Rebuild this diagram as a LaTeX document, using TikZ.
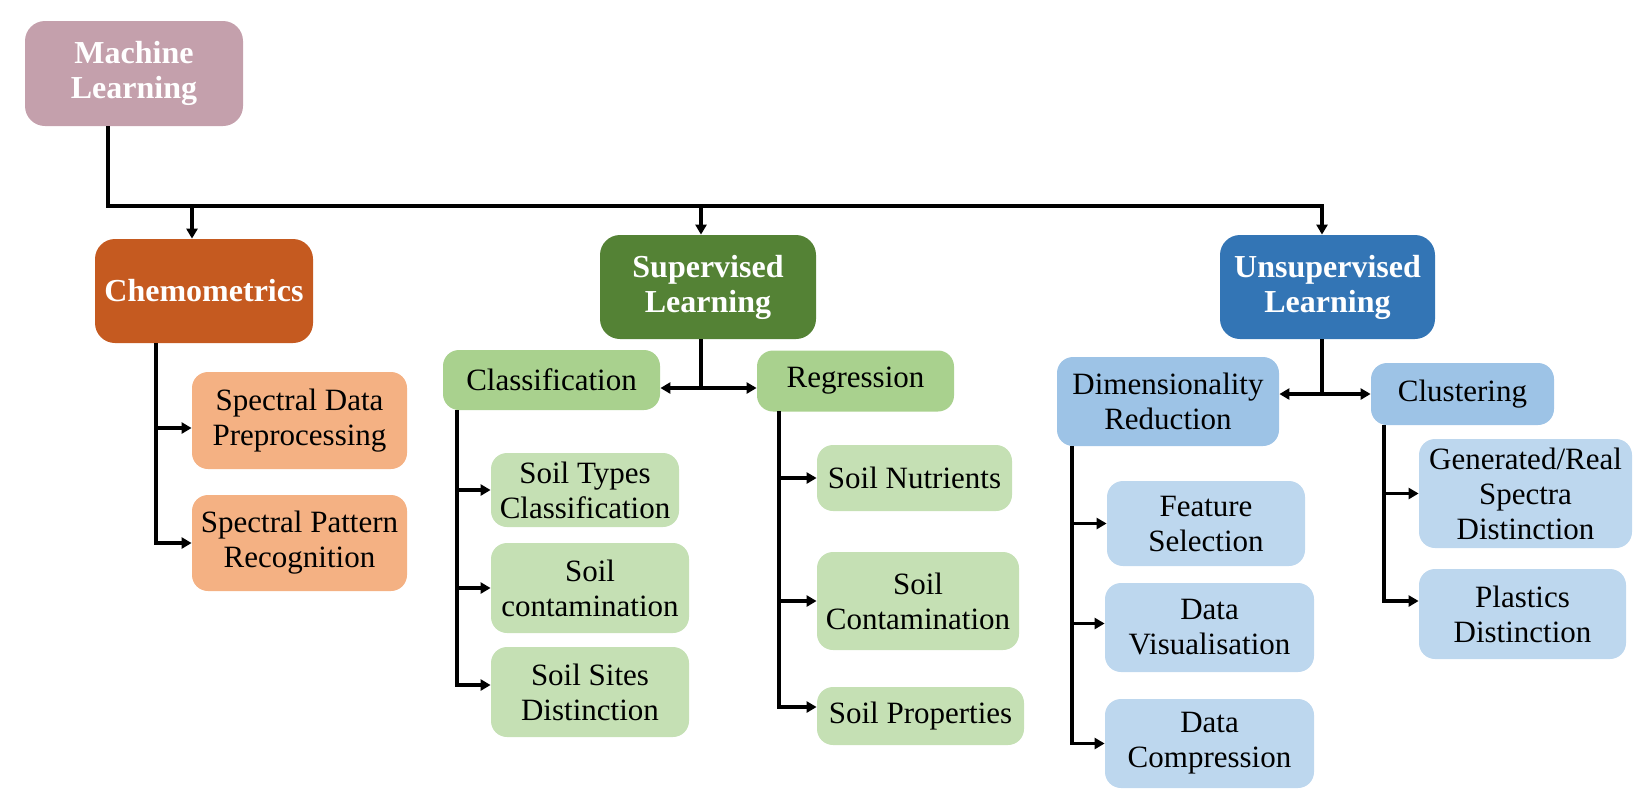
\documentclass[tikz,border=0pt]{standalone}
\usepackage{fontspec}
\setmainfont{Liberation Serif}
\usetikzlibrary{arrows.meta}
\definecolor{cML}{HTML}{C4A0AC}
\definecolor{cChem}{HTML}{C55A20}
\definecolor{cChemL}{HTML}{F4B183}
\definecolor{cSup}{HTML}{548235}
\definecolor{cSupM}{HTML}{A9D18E}
\definecolor{cSupL}{HTML}{C5E0B4}
\definecolor{cUns}{HTML}{3375B5}
\definecolor{cUnsM}{HTML}{9DC3E6}
\definecolor{cUnsL}{HTML}{BDD7EE}
\begin{document}
\begin{tikzpicture}[x=0.5pt,y=-0.5pt,
 box/.style={rounded corners=8pt, align=center, inner sep=1pt, text=black, font=\fontsize{15.5}{17.5}\selectfont},
 head/.style={box, rounded corners=10pt, text=white, font=\bfseries\fontsize{16}{17.5}\selectfont},
 sz/.style 2 args={minimum width={#1*0.5pt}, minimum height={#2*0.5pt}},
 conn/.style={line width=1.6pt, black},
 arr/.style={conn, -{Triangle[length=5pt,width=5.5pt]}},
 arrs/.style={conn, {Triangle[length=5pt,width=5.5pt]}-{Triangle[length=5pt,width=5.5pt]}}]
\useasboundingbox (0,0) rectangle (1650,800);

% top level
\node[head, fill=cML, sz={218}{105}] (ml) at (134,73.5) {Machine\\Learning};
\node[head, fill=cChem, sz={218}{104}] (chem) at (204,291) {Chemometrics};
\node[head, fill=cSup, sz={216}{104}] (sup) at (708,287) {Supervised\\Learning};
\node[head, fill=cUns, sz={215}{104}] (uns) at (1327.5,287) {Unsupervised\\Learning};

% chemometrics children
\node[box, fill=cChemL, sz={215}{97}] (sdp) at (299.5,420.5) {Spectral Data\\Preprocessing};
\node[box, fill=cChemL, sz={215}{96}] (spr) at (299.5,543) {Spectral Pattern\\Recognition};

% supervised
\node[box, fill=cSupM, sz={217}{60}] (cls) at (551.5,380) {Classification};
\node[box, fill=cSupM, sz={197}{61}] (reg) at (855.5,381) {Regression};
\node[box, fill=cSupL, sz={188}{74}] (typ) at (585,490) {Soil Types\\Classification};
\node[box, fill=cSupL, sz={198}{90}] (con) at (590,588) {Soil\\contamination};
\node[box, fill=cSupL, sz={198}{90}] (sit) at (590,692) {Soil Sites\\Distinction};
\node[box, fill=cSupL, sz={195}{66}] (nut) at (914.5,478) {Soil Nutrients};
\node[box, fill=cSupL, sz={202}{98}] (cont) at (918,601) {Soil\\Contamination};
\node[box, fill=cSupL, sz={207}{58}] (prop) at (920.5,716) {Soil Properties};

% unsupervised
\node[box, fill=cUnsM, sz={222}{89}] (dim) at (1168,401.5) {Dimensionality\\Reduction};
\node[box, fill=cUnsM, sz={183}{62}] (clu) at (1462.5,394) {Clustering};
\node[box, fill=cUnsL, sz={198}{85}] (feat) at (1206,523.5) {Feature\\Selection};
\node[box, fill=cUnsL, sz={209}{89}] (vis) at (1209.5,627.5) {Data\\Visualisation};
\node[box, fill=cUnsL, sz={209}{89}] (comp) at (1209.5,743.5) {Data\\Compression};
\node[box, fill=cUnsL, sz={213}{109}] (gen) at (1525.5,493.5) {Generated/Real\\Spectra\\Distinction};
\node[box, fill=cUnsL, sz={207}{90}] (pla) at (1522.5,614) {Plastics\\Distinction};

% main bus
\coordinate (mlb) at (108,126);
\coordinate (busC) at (192,206);
\coordinate (busS) at (701,206);
\coordinate (busU) at (1322,206);
\draw[arr] (mlb) |- (busU) -- (busU |- uns.north);
\draw[arr] (busC) -- (busC |- chem.north);
\draw[arr] (busS) -- (busS |- sup.north);

% chemometrics trunk
\coordinate (chT) at (156,343);
\coordinate (sdpA) at ([yshift=-3.75pt]sdp.west);
\draw[arr] (chT) |- (spr.west);
\draw[arr] (chT |- sdpA) -- (sdpA);

% supervised split
\coordinate (sj) at (701,388);
\draw[conn] (sup.south -| sj) -- (sj);
\draw[arrs] (sj -| cls.east) -- (sj -| reg.west);

% classification trunk
\coordinate (clT) at (457,410);
\draw[arr] (clT) |- ([yshift=3.5pt]sit.west);
\draw[arr] (clT |- typ.west) -- (typ.west);
\draw[arr] (clT |- con.west) -- (con.west);

% regression trunk
\coordinate (rgT) at (779,411);
\draw[arr] (rgT) |- ([yshift=4.5pt]prop.west);
\draw[arr] (rgT |- nut.west) -- (nut.west);
\draw[arr] (rgT |- cont.west) -- (cont.west);

% unsupervised split
\coordinate (uj) at (1322,394);
\draw[conn] (uns.south -| uj) -- (uj);
\draw[arrs] (uj -| dim.east) -- (uj -| clu.west);

% dimensionality trunk
\coordinate (dmT) at (1072,446);
\coordinate (visA) at ([yshift=2pt]vis.west);
\draw[arr] (dmT) |- (comp.west);
\draw[arr] (dmT |- feat.west) -- (feat.west);
\draw[arr] (dmT |- visA) -- (visA);

% clustering trunk
\coordinate (cuT) at (1384,425);
\draw[arr] (cuT) |- ([yshift=6.5pt]pla.west);
\draw[arr] (cuT |- gen.west) -- (gen.west);
\end{tikzpicture}
\end{document}
